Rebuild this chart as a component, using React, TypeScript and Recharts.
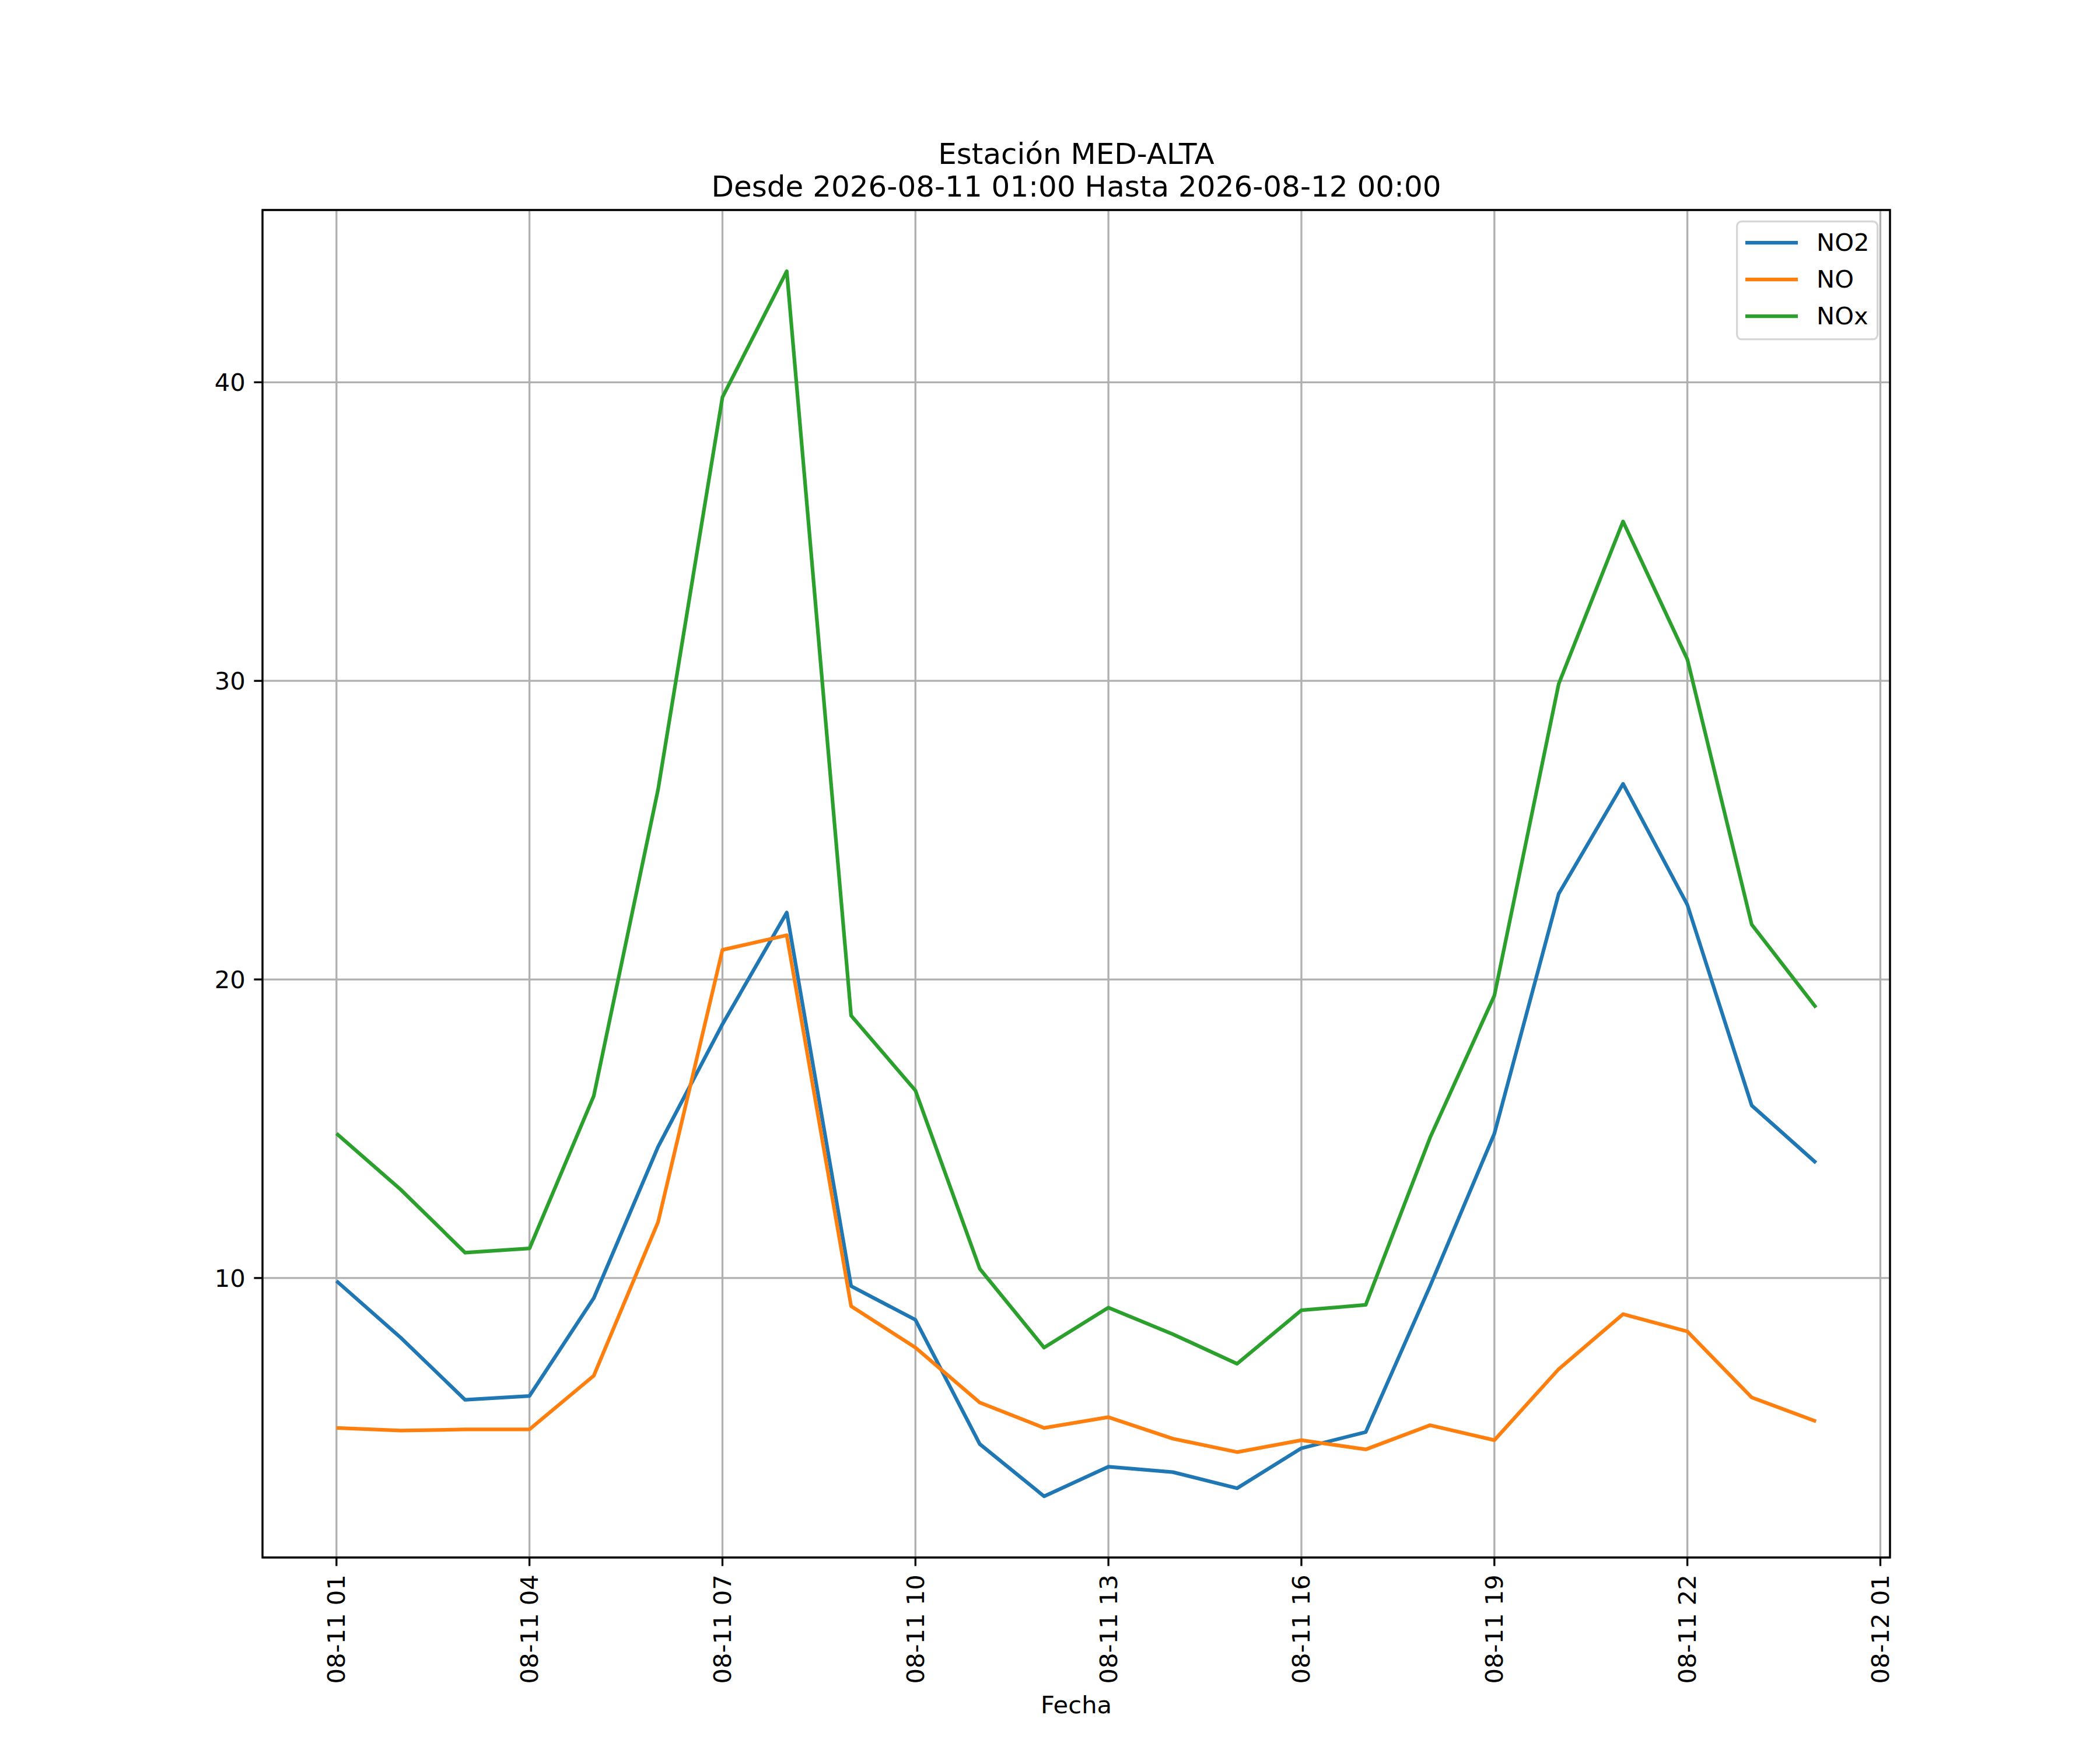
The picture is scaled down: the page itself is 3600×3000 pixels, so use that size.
import React from 'react';
import { LineChart, Line, XAxis, YAxis, CartesianGrid, Legend, ReferenceArea } from 'recharts';

// hourly samples, 2026-08-11 01:00 .. 2026-08-12 00:00
const times = [
  '2026-08-11 01:00', '2026-08-11 02:00', '2026-08-11 03:00', '2026-08-11 04:00',
  '2026-08-11 05:00', '2026-08-11 06:00', '2026-08-11 07:00', '2026-08-11 08:00',
  '2026-08-11 09:00', '2026-08-11 10:00', '2026-08-11 11:00', '2026-08-11 12:00',
  '2026-08-11 13:00', '2026-08-11 14:00', '2026-08-11 15:00', '2026-08-11 16:00',
  '2026-08-11 17:00', '2026-08-11 18:00', '2026-08-11 19:00', '2026-08-11 20:00',
  '2026-08-11 21:00', '2026-08-11 22:00', '2026-08-11 23:00', '2026-08-12 00:00',
];

const no2 = [
  9.9, 8.0, 5.92, 6.05, 9.33, 14.4, 18.5, 22.24, 9.73, 8.6, 4.44, 2.69,
  3.68, 3.5, 2.96, 4.3, 4.84, 9.73, 14.84, 22.87, 26.55, 22.5, 15.78, 13.86,
];

const no = [
  4.98, 4.89, 4.93, 4.93, 6.73, 11.88, 20.99, 21.48, 9.06, 7.67, 5.83, 4.98,
  5.34, 4.62, 4.17, 4.57, 4.26, 5.07, 4.57, 6.95, 8.79, 8.21, 6.0, 5.2,
];

const nox = [
  14.84, 12.96, 10.85, 10.99, 16.1, 26.37, 39.5, 43.72, 18.79, 16.28, 10.31, 7.67,
  9.01, 8.12, 7.13, 8.92, 9.1, 14.7, 19.46, 29.9, 35.34, 30.72, 21.84, 19.06,
];

const seriesNames = ['NO2', 'NO', 'NOx'];

const xTicks = [0, 3, 6, 9, 12, 15, 18, 21, 24];
const xTickLabels = [
  '08-11 01', '08-11 04', '08-11 07', '08-11 10', '08-11 13',
  '08-11 16', '08-11 19', '08-11 22', '08-12 01',
];
const yTicks = [10, 20, 30, 40];

const data = times.map((t, i) => ({ t, h: i, NO2: no2[i], NO: no[i], NOx: nox[i] }));

const FONT = 'DejaVu Sans';
const FS = 41.67;
const LW = 0.8 * 300 / 72;
const X_DOMAIN = [-1.15, 24.15];
const Y_DOMAIN = [0.64, 45.77];
const COLORS: Record<string, string> = { NO2: '#1f77b4', NO: '#ff7f0e', NOx: '#2ca02c' };

const XTick = (props: any) => {
  const { x, y, payload } = props;
  const label = xTickLabels[xTicks.indexOf(payload.value)];
  return (
    <text
      x={x}
      y={y}
      transform={`rotate(-90, ${x}, ${y})`}
      textAnchor="end"
      dominantBaseline="central"
      fontFamily={FONT}
      fontSize={FS}
      fill="#000"
    >
      {label}
    </text>
  );
};

const LegendBox = (props: any) => {
  // keep the plotting order, not recharts' sorted one
  const items = [...(props.payload || [])].sort(
    (a: any, b: any) => seriesNames.indexOf(a.value) - seriesNames.indexOf(b.value)
  );
  return (
    <svg width={245} height={206} style={{ display: 'block' }}>
      <rect
        x={1.67}
        y={1.67}
        width={241}
        height={202}
        rx={8}
        fill="#fff"
        fillOpacity={0.8}
        stroke="#cccccc"
        strokeOpacity={0.8}
        strokeWidth={LW}
      />
      {items.map((it: any, i: number) => (
        <g key={it.value}>
          <line
            x1={16}
            x2={106}
            y1={38 + i * 63}
            y2={38 + i * 63}
            stroke={it.color}
            strokeWidth={6.25}
          />
          <text x={138} y={52 + i * 63} fontFamily={FONT} fontSize={FS} fill="#000">
            {it.value}
          </text>
        </g>
      ))}
    </svg>
  );
};

export default function App() {
  return (
    <div style={{ position: 'absolute', left: 0, top: 0, background: '#fff' }}>
      <LineChart
        width={3600}
        height={3000}
        data={data}
        margin={{ top: 360, right: 360, bottom: 30, left: 330 }}
      >
        <CartesianGrid stroke="#b0b0b0" strokeWidth={LW} />
        <XAxis
          dataKey="h"
          type="number"
          domain={X_DOMAIN}
          allowDataOverflow
          ticks={xTicks}
          interval={0}
          height={300}
          axisLine={false}
          tickLine={{ stroke: '#000', strokeWidth: LW }}
          tickSize={14.6}
          tickMargin={14.6}
          tick={<XTick />}
        />
        <YAxis
          type="number"
          domain={Y_DOMAIN}
          allowDataOverflow
          ticks={yTicks}
          interval={0}
          width={120}
          axisLine={false}
          tickLine={{ stroke: '#000', strokeWidth: LW }}
          tickSize={14.6}
          tickMargin={14.6}
          tick={{ fill: '#000', fontFamily: FONT, fontSize: FS }}
        />
        <ReferenceArea
          x1={X_DOMAIN[0]}
          x2={X_DOMAIN[1]}
          y1={Y_DOMAIN[0]}
          y2={Y_DOMAIN[1]}
          fill="none"
          fillOpacity={0}
          stroke="#000"
          strokeWidth={LW}
          ifOverflow="visible"
        />
        {seriesNames.map((name) => (
          <Line
            key={name}
            dataKey={name}
            name={name}
            stroke={COLORS[name]}
            strokeWidth={6.25}
            strokeLinejoin="round"
            dot={false}
            activeDot={false}
            isAnimationActive={false}
          />
        ))}
        <Legend
          layout="vertical"
          align="center"
          verticalAlign="middle"
          content={<LegendBox />}
          wrapperStyle={{ position: 'absolute', left: 2976, top: 378, width: 245, height: 206, right: 'auto', bottom: 'auto' }}
        />
        <text x={1845} y={281} textAnchor="middle" fontFamily={FONT} fontSize={50} fill="#000">
          Estación MED-ALTA
        </text>
        <text x={1845} y={337} textAnchor="middle" fontFamily={FONT} fontSize={50} fill="#000">
          Desde 2026-08-11 01:00 Hasta 2026-08-12 00:00
        </text>
        <text x={1845} y={2937} textAnchor="middle" fontFamily={FONT} fontSize={FS} fill="#000">
          Fecha
        </text>
      </LineChart>
    </div>
  );
}
